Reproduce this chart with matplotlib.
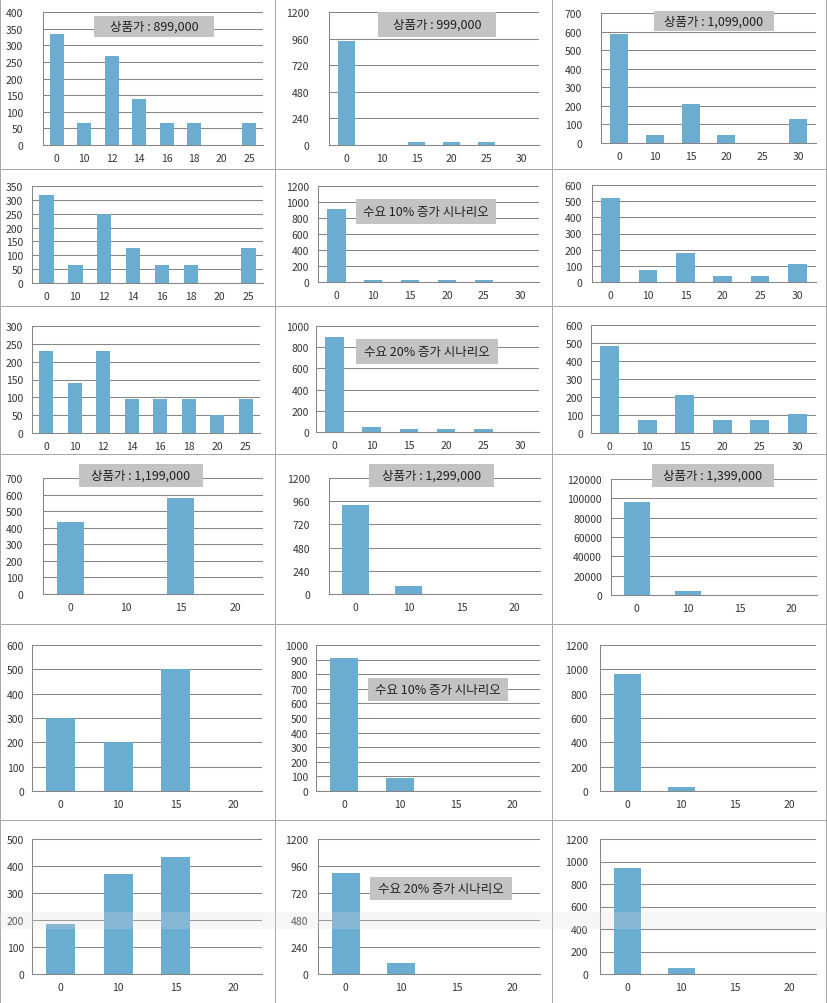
import matplotlib.pyplot as plt
from matplotlib.patches import Rectangle
import numpy as np

plt.rcParams["font.family"] = ["Noto Sans CJK KR", "DejaVu Sans"]

W, H = 827, 1004

# discount (%) categories
cats_8 = ["0", "10", "12", "14", "16", "18", "20", "25"]
cats_6 = ["0", "10", "15", "20", "25", "30"]
cats_4 = ["0", "10", "15", "20"]

# row 1-3: price 899,000 / 999,000 / 1,099,000 (base, +10%, +20%)
p899_base = [335, 66, 268, 137, 66, 66, 0, 66]
p999_base = [935, 0, 30, 30, 30, 0]
p1099_base = [589, 45, 211, 45, 0, 131]
p899_up10 = [316, 65, 250, 127, 65, 65, 0, 127]
p999_up10 = [910, 29, 29, 29, 29, 0]
p1099_up10 = [518, 76, 181, 37, 37, 113]
p899_up20 = [229, 139, 229, 94, 94, 94, 50, 94]
p999_up20 = [893, 47, 28, 28, 28, 0]
p1099_up20 = [485, 71, 212, 71, 71, 104]

# row 4-6: price 1,199,000 / 1,299,000 / 1,399,000
p1199_base = [432, 0, 579, 0]
p1299_base = [924, 83, 0, 0]
p1399_base = [96500, 4500, 0, 0]
p1199_up10 = [300, 200, 500, 0]
p1299_up10 = [911, 89, 0, 0]
p1399_up10 = [962, 36, 0, 0]
p1199_up20 = [187, 372, 435, 0]
p1299_up20 = [898, 100, 0, 0]
p1399_up20 = [942, 53, 0, 0]

# y axis max / step of each chart
ymax = [400, 1200, 700, 350, 1200, 600, 300, 1000, 600,
        700, 1200, 120000, 600, 1000, 1200, 500, 1200, 1200]
ystep = [50, 240, 100, 50, 200, 100, 50, 200, 100,
         100, 240, 20000, 100, 100, 200, 100, 240, 200]

labels = {
    0: "상품가 : 899,000",
    1: "상품가 : 999,000",
    2: "상품가 : 1,099,000",
    4: "수요 10% 증가 시나리오",
    7: "수요 20% 증가 시나리오",
    9: "상품가 : 1,199,000",
    10: "상품가 : 1,299,000",
    11: "상품가 : 1,399,000",
    13: "수요 10% 증가 시나리오",
    16: "수요 20% 증가 시나리오",
}

series = [
    (cats_8, p899_base), (cats_6, p999_base), (cats_6, p1099_base),
    (cats_8, p899_up10), (cats_6, p999_up10), (cats_6, p1099_up10),
    (cats_8, p899_up20), (cats_6, p999_up20), (cats_6, p1099_up20),
    (cats_4, p1199_base), (cats_4, p1299_base), (cats_4, p1399_base),
    (cats_4, p1199_up10), (cats_4, p1299_up10), (cats_4, p1399_up10),
    (cats_4, p1199_up20), (cats_4, p1299_up20), (cats_4, p1399_up20),
]

# layout in pixels (x0, y0, x1, y1)
plot_px = [
    (43, 13, 263, 146), (329, 13, 539, 146), (601, 14, 816, 144),
    (32, 187, 263, 284), (318, 187, 539, 283), (592, 186, 816, 283),
    (32, 327, 260, 434), (316, 327, 539, 433), (591, 326, 816, 434),
    (43, 479, 263, 595), (329, 479, 541, 595), (611, 480, 817, 596),
    (32, 646, 262, 792), (316, 646, 540, 792), (600, 646, 816, 792),
    (32, 840, 262, 975), (318, 840, 540, 975), (600, 840, 816, 975),
]
label_gap = [20, 20, 19, 9, 9, 10, 9, 7, 8, 20, 19, 9, 8, 8, 12, 8, 10, 12]
row_edges = [0, 170, 307, 455, 625, 821, 1004]
col_edges = [0, 275, 552, 826]
box_px = {
    0: (94, 17, 214, 38), 1: (378, 13, 496, 38), 2: (654, 12, 774, 32),
    4: (356, 200, 496, 225), 7: (356, 340, 498, 365),
    9: (79, 465, 203, 488), 10: (369, 465, 494, 488), 11: (652, 465, 774, 488),
    13: (368, 679, 508, 702), 16: (370, 878, 512, 901),
}


def fig_rect(x0, y0, x1, y1):
    return [x0 / W, 1 - y1 / H, (x1 - x0) / W, (y1 - y0) / H]


fig = plt.figure(figsize=(W / 100, H / 100), dpi=100)
fig.patch.set_facecolor("white")

# panel frames
for r in range(6):
    for c in range(3):
        x0, x1 = col_edges[c], col_edges[c + 1]
        y0, y1 = row_edges[r], row_edges[r + 1]
        fig.add_artist(Rectangle((x0 / W, 1 - y1 / H), (x1 - x0) / W, (y1 - y0) / H,
                                 transform=fig.transFigure, fill=False,
                                 edgecolor="#a6a6a6", linewidth=0.7, zorder=0))

for i, (cats, vals) in enumerate(series):
    ax = fig.add_axes(fig_rect(*plot_px[i]))
    x = np.arange(len(cats))
    ax.bar(x, vals, width=0.5, color="#6aadd0", zorder=2)
    ax.set_xlim(-0.5, len(cats) - 0.5)
    ax.set_ylim(0, ymax[i])
    ax.set_yticks(np.arange(0, ymax[i] + 1, ystep[i]))
    ax.set_xticks(x)
    ax.set_xticklabels(cats)
    ax.grid(axis="y", color="#868686", linewidth=0.75)
    ax.set_axisbelow(True)
    for s in ["top", "right"]:
        ax.spines[s].set_visible(False)
    for s in ["left", "bottom"]:
        ax.spines[s].set_color("#868686")
        ax.spines[s].set_linewidth(0.75)
    ax.tick_params(axis="y", length=0, pad=label_gap[i] * 0.72, labelsize=7.5,
                   labelcolor="#333333")
    ax.tick_params(axis="x", length=0, pad=6, labelsize=7.5, labelcolor="#333333")
    ax.patch.set_alpha(0)

    if i in labels:
        bx0, by0, bx1, by1 = box_px[i]
        fig.add_artist(Rectangle((bx0 / W, 1 - by1 / H), (bx1 - bx0) / W, (by1 - by0) / H,
                                 transform=fig.transFigure, facecolor="#c3c3c3",
                                 edgecolor="none", zorder=3))
        fig.text((bx0 + bx1) / 2 / W, 1 - (by0 + by1) / 2 / H, labels[i],
                 ha="center", va="center", fontsize=9, color="#222222", zorder=4)

# light highlight band from the screenshot
fig.add_artist(Rectangle((0, 1 - 930 / H), 1, 17 / H, transform=fig.transFigure,
                         facecolor="#dcdcdc", alpha=0.25, edgecolor="none", zorder=5))

fig.savefig("out.png", dpi=100)
